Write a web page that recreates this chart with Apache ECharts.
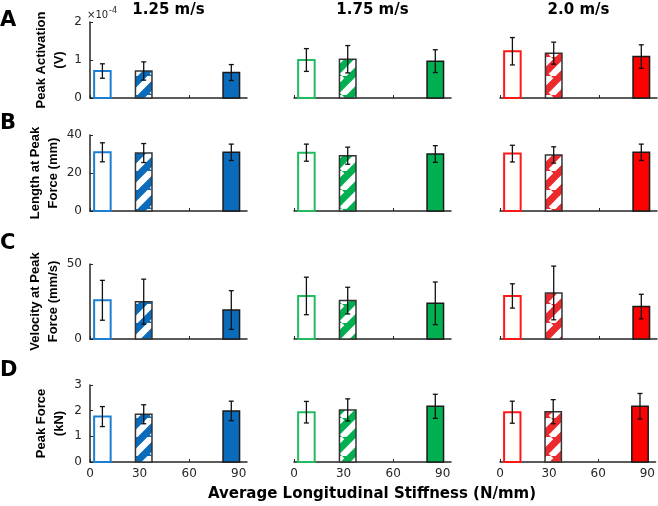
<!DOCTYPE html>
<html>
<head>
<meta charset="utf-8">
<script src="https://cdn.jsdelivr.net/npm/echarts@6/dist/echarts.min.js"></script>
<style>html,body{margin:0;padding:0;background:#fff}#c{width:658px;height:506px}</style>
</head>
<body>
<div id="c"></div>
<script>
// ---- data ----
const speeds = ['1.25 m/s', '1.75 m/s', '2.0 m/s'];
const stiffness = [7.5, 32.5, 85.5];
const xTicks = [0, 30, 60, 90];
const rowLetters = ['A', 'B', 'C', 'D'];
const rowNames = ['Peak Activation\n(V)', 'Length at Peak\nForce (mm)', 'Velocity at Peak\nForce (mm/s)', 'Peak Force\n(kN)'];
const yMax = [2, 40, 50, 3];
const yInterval = [1, 20, 50, 1];
// peak activation (x10^-4 V), per speed: [open, hatched, filled]
const activation = [[0.71, 0.71, 0.67], [1.00, 1.02, 0.97], [1.23, 1.18, 1.09]];
const activationErr = [[0.19, 0.24, 0.21], [0.30, 0.36, 0.30], [0.36, 0.29, 0.31]];
const lengthPk = [[30.9, 30.5, 30.9], [30.7, 29.1, 30.0], [30.2, 29.5, 30.9]];
const lengthErr = [[5.0, 5.0, 4.3], [4.5, 4.5, 4.4], [4.4, 4.3, 4.3]];
const velocity = [[25.8, 24.9, 19.3], [28.7, 25.6, 23.8], [28.7, 30.7, 21.6]];
const velocityErr = [[13.3, 15.0, 12.9], [12.5, 8.9, 14.2], [8.1, 17.9, 8.2]];
const force = [[1.77, 1.86, 1.99], [1.94, 2.03, 2.17], [1.94, 1.96, 2.17]];
const forceErr = [[0.39, 0.37, 0.38], [0.42, 0.43, 0.47], [0.43, 0.47, 0.50]];

const values = [activation, lengthPk, velocity, force];
const errors = [activationErr, lengthErr, velocityErr, forceErr];

// ---- styles ----
const fillCol = ['#0a6bbb', '#00b050', '#ff0000'];
const hatchCol = ['#0a6bbb', '#00b050', '#ec2a2e'];
const openCol = ['#1a7fd2', '#22bb5e', '#ff1616'];
const axisCol = '#262626';
const hFont = 'DejaVu Sans, sans-serif';
const vFont = 'Liberation Sans, Arial, sans-serif';
const colLeft = [90, 294, 500];
const colWidth = 157;
const rowTop = [22, 135, 264, 385];
const rowHeight = [76, 76, 75, 77];
const halfW = 5;

function hatch(color) {
  const P = 19;
  const c = document.createElement('canvas');
  c.width = P; c.height = P;
  const g = c.getContext('2d');
  g.fillStyle = color; g.fillRect(0, 0, P, P);
  g.strokeStyle = '#ffffff'; g.lineWidth = 6.5;
  for (const k of [-1, 0, 1]) {
    g.beginPath(); g.moveTo(k * P, P); g.lineTo(k * P + P, 0); g.stroke();
  }
  return c;
}
const hatchPat = hatchCol.map(c => ({ image: hatch(c), repeat: 'repeat' }));

const grid = [], xAxis = [], yAxis = [], series = [];
for (let r = 0; r < 4; r++) {
  for (let s = 0; s < 3; s++) {
    const gi = r * 3 + s;
    grid.push({ left: colLeft[s], top: rowTop[r], width: colWidth, height: rowHeight[r] });
    xAxis.push({
      gridIndex: gi, type: 'value', min: 0, max: 95,
      axisLine: { show: true, lineStyle: { color: axisCol, width: 1.5 } },
      axisTick: { show: true, inside: true, length: 3, customValues: xTicks, lineStyle: { color: axisCol } },
      axisLabel: { show: r === 3, customValues: xTicks, fontSize: 12, color: axisCol, fontFamily: hFont, margin: 6 },
      splitLine: { show: false }
    });
    yAxis.push({
      gridIndex: gi, type: 'value', min: 0, max: yMax[r], interval: yInterval[r],
      name: s === 0 ? rowNames[r] : '', nameLocation: 'middle', nameRotate: 90, nameGap: 22,
      nameTextStyle: { fontFamily: vFont, fontWeight: 'bold', fontSize: 13, lineHeight: 18, color: '#000' },
      axisLine: { show: s === 0, lineStyle: { color: axisCol, width: 1.5 } },
      axisTick: { show: s === 0, inside: true, length: 3, lineStyle: { color: axisCol } },
      axisLabel: { show: s === 0, fontSize: 12, color: axisCol, fontFamily: hFont, margin: 8 },
      splitLine: { show: false }
    });
    const data = stiffness.map((x, k) => [x, values[r][s][k], errors[r][s][k], k]);
    series.push({
      type: 'custom', xAxisIndex: gi, yAxisIndex: gi, data: data, z: 2,
      renderItem: function (params, api) {
        const x = api.value(0), y = api.value(1), k = api.value(3);
        const p0 = api.coord([x - halfW, y]);
        const p1 = api.coord([x + halfW, 0]);
        let style;
        if (k === 0) style = { fill: '#fff', stroke: openCol[s], lineWidth: 2 };
        else if (k === 1) style = { fill: hatchPat[s], stroke: '#333', lineWidth: 1.5 };
        else style = { fill: fillCol[s], stroke: '#1a1a1a', lineWidth: 1.5 };
        return { type: 'rect', shape: { x: p0[0], y: p0[1], width: p1[0] - p0[0], height: p1[1] - p0[1] }, style: style };
      }
    });
    series.push({
      type: 'custom', xAxisIndex: gi, yAxisIndex: gi, data: data, z: 3,
      renderItem: function (params, api) {
        const x = api.value(0), y = api.value(1), e = api.value(2);
        const hi = api.coord([x, y + e]);
        const lo = api.coord([x, y - e]);
        const cw = 2.5;
        const st = { stroke: '#111', lineWidth: 1.3 };
        return {
          type: 'group', children: [
            { type: 'line', shape: { x1: hi[0], y1: hi[1], x2: lo[0], y2: lo[1] }, style: st },
            { type: 'line', shape: { x1: hi[0] - cw, y1: hi[1], x2: hi[0] + cw, y2: hi[1] }, style: st },
            { type: 'line', shape: { x1: lo[0] - cw, y1: lo[1], x2: lo[0] + cw, y2: lo[1] }, style: st }
          ]
        };
      }
    });
  }
}

const graphic = [];
const letterY = [21, 124, 244, 371];
rowLetters.forEach((L, r) => graphic.push({
  type: 'text', left: 0, top: letterY[r] - 11,
  style: { text: L, fontFamily: hFont, fontWeight: 'bold', fontSize: 21, fill: '#000' }
}));
speeds.forEach((t, s) => graphic.push({
  type: 'text', x: colLeft[s] + colWidth / 2, y: 10,
  style: { text: t, fontFamily: hFont, fontWeight: 'bold', fontSize: 15, fill: '#000', textAlign: 'center', textVerticalAlign: 'middle' }
}));
graphic.push({
  type: 'text', x: 372, y: 494,
  style: { text: 'Average Longitudinal Stiffness (N/mm)', fontFamily: hFont, fontWeight: 'bold', fontSize: 15, fill: '#000', textAlign: 'center', textVerticalAlign: 'middle' }
});
graphic.push({ type: 'text', x: 87, y: 10, style: { text: '×10', fontFamily: hFont, fontSize: 10, fill: axisCol } });
graphic.push({ type: 'text', x: 109, y: 7, style: { text: '-4', fontFamily: hFont, fontSize: 8, fill: axisCol } });

const chart = echarts.init(document.getElementById('c'), null, { renderer: 'canvas' });
chart.setOption({ animation: false, backgroundColor: '#fff', grid, xAxis, yAxis, series, graphic });
</script>
</body>
</html>
